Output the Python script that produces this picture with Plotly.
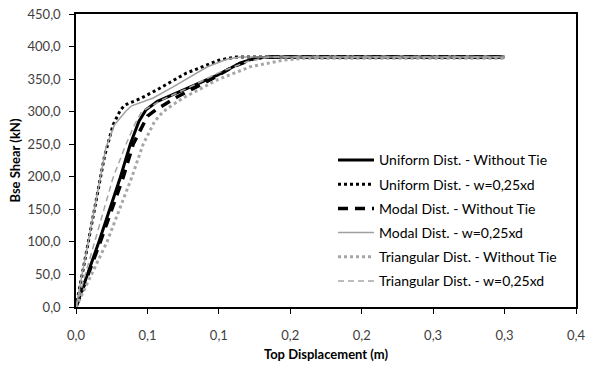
import plotly.graph_objects as go

# Pushover curves: base shear vs. top displacement
names = [
    "Uniform Dist. - Without Tie",
    "Uniform Dist. - w=0,25xd",
    "Modal Dist. - Without Tie",
    "Modal Dist. - w=0,25xd",
    "Triangular Dist. - Without Tie",
    "Triangular Dist. - w=0,25xd",
]

uni_no_x = [0, 0.016, 0.031, 0.038, 0.044, 0.049, 0.057, 0.075, 0.099, 0.115, 0.127, 0.14, 0.30]
uni_no_y = [0, 100, 199, 250, 285, 303, 316, 333, 356, 375, 383, 384, 384]

uni_w_x = [0, 0.020, 0.026, 0.031, 0.034, 0.045, 0.057, 0.077, 0.100, 0.112, 0.30]
uni_w_y = [0, 232, 280, 302, 310, 320, 334, 359, 379, 384, 384]

mod_no_x = [0, 0.017, 0.033, 0.040, 0.050, 0.056, 0.071, 0.094, 0.110, 0.124, 0.135, 0.30]
mod_no_y = [0, 100, 199, 250, 293, 303, 323, 349, 369, 381, 384, 384]

mod_w_x = [0, 0.021, 0.027, 0.035, 0.039, 0.054, 0.068, 0.092, 0.106, 0.115, 0.30]
mod_w_y = [0, 245, 280, 301, 309, 321, 338, 369, 381, 384, 384]

tri_no_x = [0, 0.0217, 0.039, 0.047, 0.055, 0.061, 0.068, 0.075, 0.099, 0.122, 0.145, 0.160, 0.30]
tri_no_y = [0, 100, 199, 250, 285, 300, 311, 321, 349, 369, 379, 382, 382]

tri_w_x = [0, 0.013, 0.026, 0.035, 0.041, 0.046, 0.060, 0.080, 0.100, 0.120, 0.135, 0.30]
tri_w_y = [0, 100, 199, 250, 280, 300, 318, 338, 360, 377, 384, 384]

x_tickvals = [0, 0.05, 0.10, 0.15, 0.20, 0.25, 0.30, 0.35]
x_ticktext = ["0,0", "0,1", "0,1", "0,2", "0,2", "0,3", "0,3", "0,4"]
y_tickvals = [0, 50, 100, 150, 200, 250, 300, 350, 400, 450]
y_ticktext = ["0,0", "50,0", "100,0", "150,0", "200,0", "250,0", "300,0", "350,0", "400,0", "450,0"]

series = [
    (uni_no_x, uni_no_y, dict(color="#000000", width=3, dash="solid")),
    (uni_w_x, uni_w_y, dict(color="#000000", width=3, dash="dot")),
    (mod_no_x, mod_no_y, dict(color="#000000", width=3.5, dash="10px,7px")),
    (mod_w_x, mod_w_y, dict(color="#a0a0a0", width=1.5, dash="solid")),
    (tri_no_x, tri_no_y, dict(color="#a6a6a6", width=3, dash="dot")),
    (tri_w_x, tri_w_y, dict(color="#a6a6a6", width=1.5, dash="6px,4px")),
]

fig = go.Figure()
for i, (xs, ys, ln) in enumerate(series):
    fig.add_trace(go.Scatter(x=xs, y=ys, mode="lines", name=names[i],
                             line=ln, legendgroup=f"g{i}"))

font = "Lato, 'Open Sans', sans-serif"
tick_font = dict(family=font, size=13, color="#404040")
title_font = dict(family=font, size=13, color="#000000")
axis_common = dict(showgrid=False, zeroline=False, showline=True, linecolor="#000000",
                   linewidth=1.5, ticks="outside", ticklen=5, tickcolor="#000000",
                   tickwidth=1, tickfont=tick_font, mirror=True, automargin=False)
# inner half of the cross-style tick marks
inner_ticks = dict(showgrid=False, zeroline=False, showline=False, ticks="inside",
                   ticklen=5, tickcolor="#000000", tickwidth=1,
                   showticklabels=False, automargin=False)

fig.update_layout(
    width=589, height=367,
    margin=dict(l=76, r=13, t=14, b=60),
    paper_bgcolor="white", plot_bgcolor="white",
    font=dict(family=font, size=13, color="#404040"),
    xaxis=dict(range=[0, 0.35], tickvals=x_tickvals, ticktext=x_ticktext,
               ticklabelstandoff=11,
               title=dict(text="<b>Top Displacement (m)</b>", font=title_font, standoff=8),
               **axis_common),
    yaxis=dict(range=[0, 450], tickvals=y_tickvals, ticktext=y_ticktext,
               ticklabelstandoff=6,
               title=dict(text="<b>Bse Shear (kN)</b>", font=title_font, standoff=4),
               **axis_common),
    xaxis2=dict(overlaying="x", matches="x", range=[0, 0.35], tickvals=x_tickvals,
                anchor="y", side="bottom", **inner_ticks),
    yaxis2=dict(overlaying="y", matches="y", range=[0, 450], tickvals=y_tickvals,
                anchor="x", side="left", **inner_ticks),
    legend=dict(x=0.514, y=0.555, xanchor="left", yanchor="top",
                bgcolor="rgba(0,0,0,0)", tracegroupgap=3, itemwidth=36,
                font=dict(family=font, size=14, color="#000000")),
    showlegend=True,
)

fig.write_html("out.html")
